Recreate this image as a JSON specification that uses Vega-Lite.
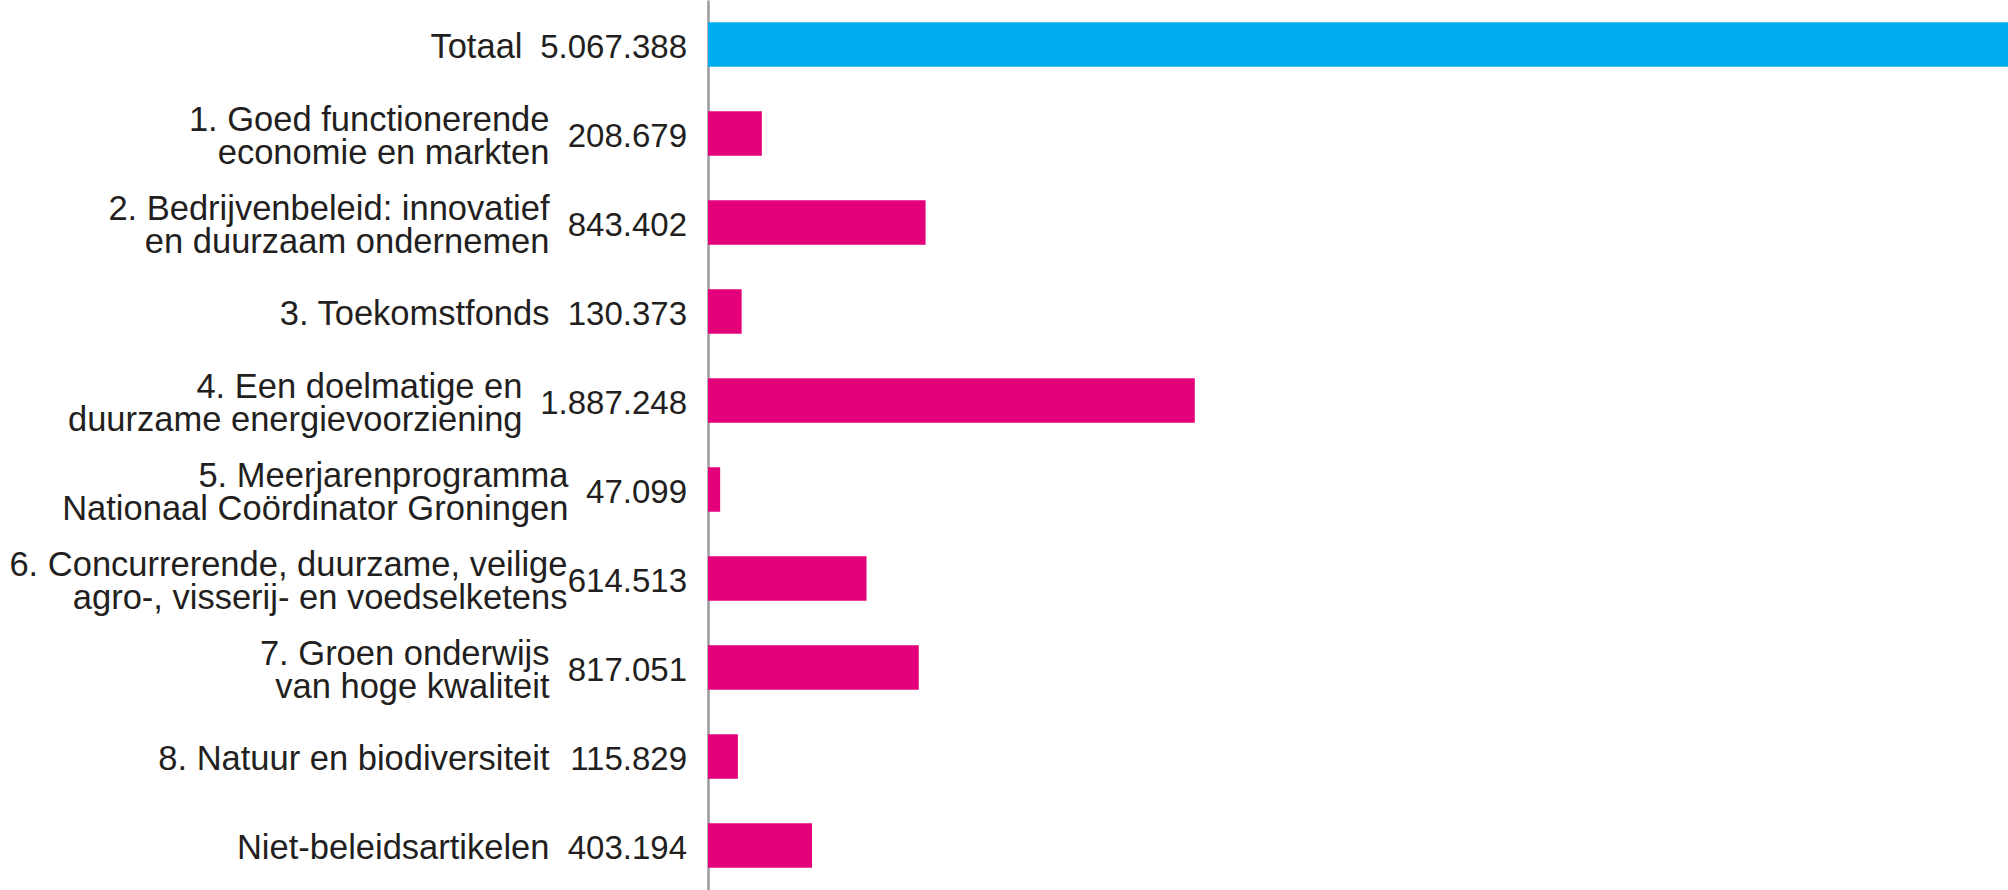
{
  "$schema": "https://vega.github.io/schema/vega-lite/v6.json",
  "autosize": {"type": "none"},
  "padding": {"left": 708, "top": 0, "right": 0, "bottom": 0},
  "width": 1300,
  "height": 890,
  "background": "white",
  "config": {
    "view": {"stroke": null},
    "locale": {"number": {"decimal": ",", "thousands": ".", "grouping": [3], "currency": ["€", ""]}},
    "font": "Liberation Sans"
  },
  "data": {
    "values": [
      {"artikel": "Totaal", "bedrag": 5067388, "soort": "totaal"},
      {"artikel": "1. Goed functionerende\neconomie en markten", "bedrag": 208679, "soort": "artikel"},
      {"artikel": "2. Bedrijvenbeleid: innovatief\nen duurzaam ondernemen", "bedrag": 843402, "soort": "artikel"},
      {"artikel": "3. Toekomstfonds", "bedrag": 130373, "soort": "artikel"},
      {"artikel": "4. Een doelmatige en\nduurzame energievoorziening", "bedrag": 1887248, "soort": "artikel"},
      {"artikel": "5. Meerjarenprogramma\nNationaal Coördinator Groningen", "bedrag": 47099, "soort": "artikel"},
      {"artikel": "6. Concurrerende, duurzame, veilige\nagro-, visserij- en voedselketens", "bedrag": 614513, "soort": "artikel"},
      {"artikel": "7. Groen onderwijs\nvan hoge kwaliteit", "bedrag": 817051, "soort": "artikel"},
      {"artikel": "8. Natuur en biodiversiteit", "bedrag": 115829, "soort": "artikel"},
      {"artikel": "Niet-beleidsartikelen", "bedrag": 403194, "soort": "artikel"}
    ]
  },
  "encoding": {
    "y": {
      "field": "artikel",
      "type": "nominal",
      "sort": null,
      "scale": {"paddingInner": 0.5, "paddingOuter": 0.25},
      "axis": {
        "title": null,
        "orient": "left",
        "domain": true,
        "domainColor": "#9a9a9c",
        "domainWidth": 2.5,
        "ticks": false,
        "tickSize": 0,
        "labelExpr": "split(datum.label, '\\n')",
        "labelFont": "Liberation Sans",
        "labelFontSize": 34.5,
        "labelLineHeight": 33,
        "labelColor": "#231f20",
        "labelAlign": "right",
        "labelBaseline": "middle",
        "labelLimit": 0,
        "labelOffset": {
          "condition": {"test": "indexof(datum.value, '\\n') >= 0", "value": -12.5},
          "value": 3.5
        },
        "labelPadding": {
          "condition": [
            {"test": "datum.value === 'Totaal' || indexof(datum.value, '4.') === 0", "value": 186},
            {"test": "indexof(datum.value, '5.') === 0", "value": 140},
            {"test": "indexof(datum.value, '6.') === 0", "value": 141}
          ],
          "value": 159
        }
      }
    }
  },
  "layer": [
    {
      "mark": {"type": "bar", "clip": true},
      "encoding": {
        "x": {
          "field": "bedrag",
          "type": "quantitative",
          "scale": {"domain": [0, 5040000], "nice": false, "zero": true},
          "axis": null
        },
        "color": {
          "field": "soort",
          "type": "nominal",
          "scale": {"domain": ["totaal", "artikel"], "range": ["#00aeef", "#e3007a"]},
          "legend": null
        }
      }
    },
    {
      "mark": {
        "type": "text",
        "align": "right",
        "baseline": "middle",
        "dx": -21,
        "dy": 3,
        "font": "Liberation Sans",
        "fontSize": 33,
        "color": "#231f20"
      },
      "encoding": {
        "x": {"datum": 0, "type": "quantitative"},
        "text": {"field": "bedrag", "type": "quantitative", "format": ",.0f"}
      }
    }
  ]
}
